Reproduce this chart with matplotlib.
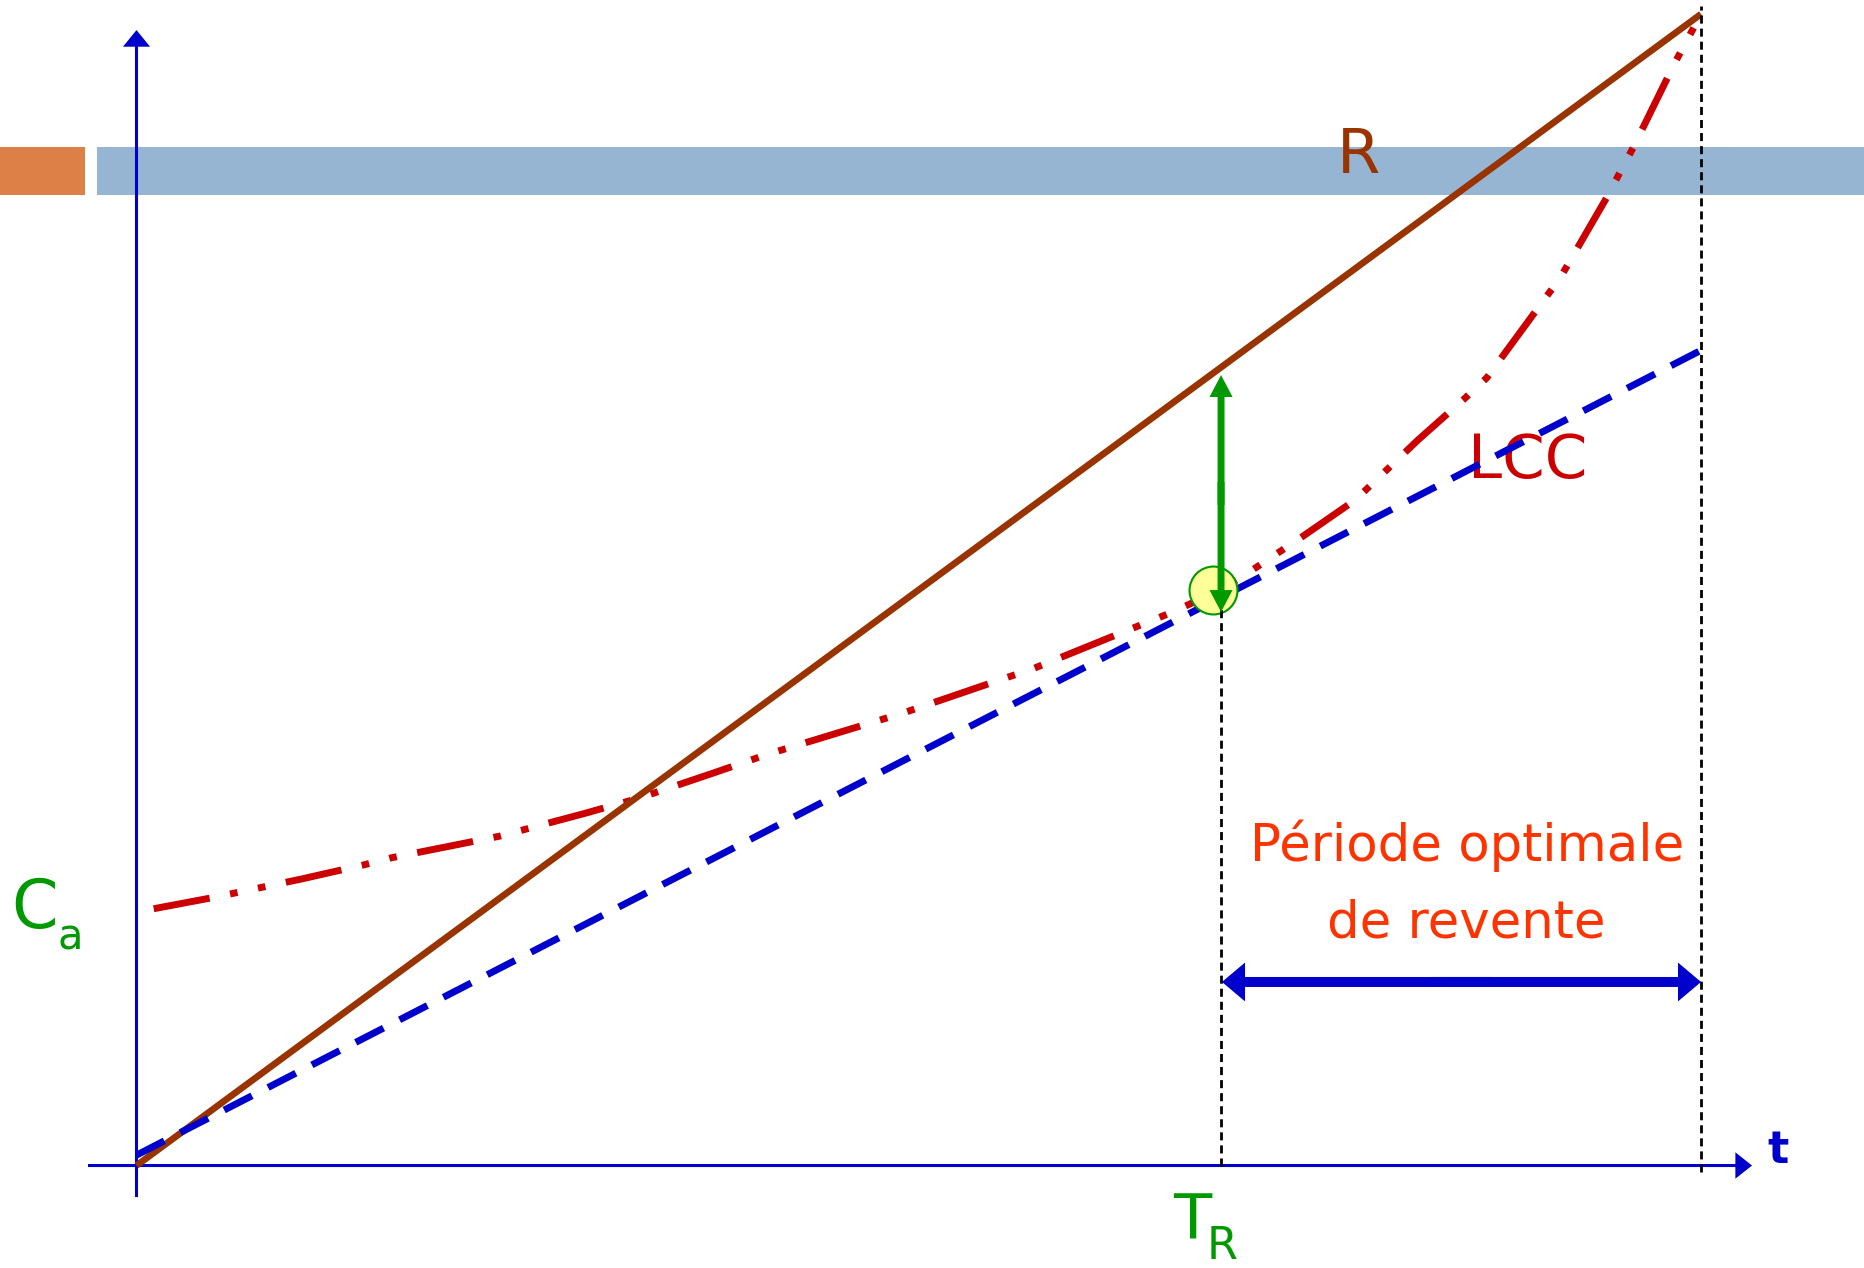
# Période optimale de revente : R, LCC et tangente depuis l'origine

import matplotlib.pyplot as plt
from matplotlib.patches import Rectangle, FancyArrowPatch, ArrowStyle

# Courbes (t en abscisse, coût en ordonnée)
t_lcc = [0.11, 0.50, 1.06, 1.45, 1.62, 2.32, 2.87, 3.21, 3.69, 4.03, 4.90, 5.74,
         6.61, 6.93, 7.13, 7.45, 7.79, 8.19, 8.48, 8.63, 9.10, 9.39, 9.57, 9.83, 10.0]
c_lcc = [2.23, 2.33, 2.49, 2.61, 2.67, 2.86, 3.06, 3.19, 3.41, 3.57, 3.93, 4.32,
         4.80, 5.00, 5.17, 5.46, 5.78, 6.30, 6.65, 6.84, 7.71, 8.39, 8.85, 9.57, 10.0]
t_rev = [0.0, 10.0]
c_rev = [0.0, 10.0]
t_tan = [0.0, 10.0]
c_tan = [0.09, 7.08]
T_R = 6.93
T_fin = 10.0

bleu = '#0000cc'
vert = '#009900'

fig = plt.figure(figsize=(18.65, 12.68), dpi=100)
ax = fig.add_axes([0, 0, 1, 1])
ax.set_xlim(-0.8725, 11.048)
ax.set_ylim(-0.890, 10.122)
ax.axis('off')


def fleche(p0, p1, couleur, larg, tete_l, tete_w, z):
    style = ArrowStyle.Simple(head_length=tete_l, head_width=tete_w, tail_width=larg)
    ax.add_patch(FancyArrowPatch(p0, p1, arrowstyle=style, mutation_scale=1,
                                 shrinkA=0, shrinkB=0, color=couleur, lw=0, zorder=z))


# bandeau du haut
ax.add_patch(Rectangle((-0.2525, 8.426), 12, 0.417, color='#95b5d3', lw=0, zorder=0))
ax.add_patch(Rectangle((-0.95, 8.426), 0.621, 0.417, color='#dd8047', lw=0, zorder=0))

# axes
fleche((0, -0.274), (0, 9.861), bleu, 2.2, 12, 19.5, 1)
fleche((-0.310, 0), (10.326, 0), bleu, 2.2, 12, 19, 1)

# courbes
ax.plot(t_lcc, c_lcc, color='#cc0000', lw=5,
        dashes=(8.2, 3.0, 1.1, 3.0, 1.1, 3.0), zorder=2)
ax.plot(t_rev, c_rev, color='#993300', lw=4.8, solid_capstyle='butt', zorder=2.5)
ax.plot(t_tan, c_tan, color=bleu, lw=5, dashes=(4.5, 2.6), zorder=3.5)

# point de tangence
ax.plot(6.88, 5.0, 'o', ms=34.5, mfc='#ffff99', mec=vert, mew=1.5, zorder=4)

# repères verticaux
ax.plot([T_R, T_R], [0, 4.93], color='black', lw=2, dashes=(2.9, 1.8), zorder=5)
ax.plot([T_fin, T_fin], [-0.06, 10.07], color='black', lw=2, dashes=(2.9, 1.8), zorder=5)

# écart R - LCC
mid = (6.865 + 4.807) / 2
fleche((6.932, mid - 0.1), (6.932, 6.865), vert, 5, 15.8, 16.6, 6)
fleche((6.932, mid + 0.1), (6.932, 4.807), vert, 5, 15.8, 16.6, 6)

# période optimale
mid = (6.938 + T_fin) / 2
fleche((mid - 0.2, 1.594), (T_fin, 1.594), bleu, 7.2, 16.6, 28, 6)
fleche((mid + 0.2, 1.594), (6.938, 1.594), bleu, 7.2, 16.6, 28, 6)

# textes
ax.text(8.504, 2.644, 'Période optimale', color='#ff3300', fontsize=37,
        ha='center', va='baseline')
ax.text(8.498, 1.984, 'de revente', color='#ff3300', fontsize=37,
        ha='center', va='baseline')
ax.text(8.894, 5.972, 'LCC', color='#cc0000', fontsize=44, ha='center', va='baseline', zorder=3)
ax.text(7.814, 8.620, 'R', color='#993300', fontsize=45, ha='center', va='baseline')
ax.text(6.750, -0.630, 'T', color=vert, fontsize=45, ha='center', va='baseline')
ax.text(6.942, -0.812, 'R', color=vert, fontsize=32, ha='center', va='baseline')
ax.text(-0.655, 2.063, 'C', color=vert, fontsize=48, ha='center', va='baseline')
ax.text(-0.425, 1.880, 'a', color=vert, fontsize=30, ha='center', va='baseline')
ax.text(10.489, 0.022, 't', color=bleu, fontsize=32, fontweight='bold',
        ha='center', va='baseline')

fig.savefig('out.png', dpi=100)
